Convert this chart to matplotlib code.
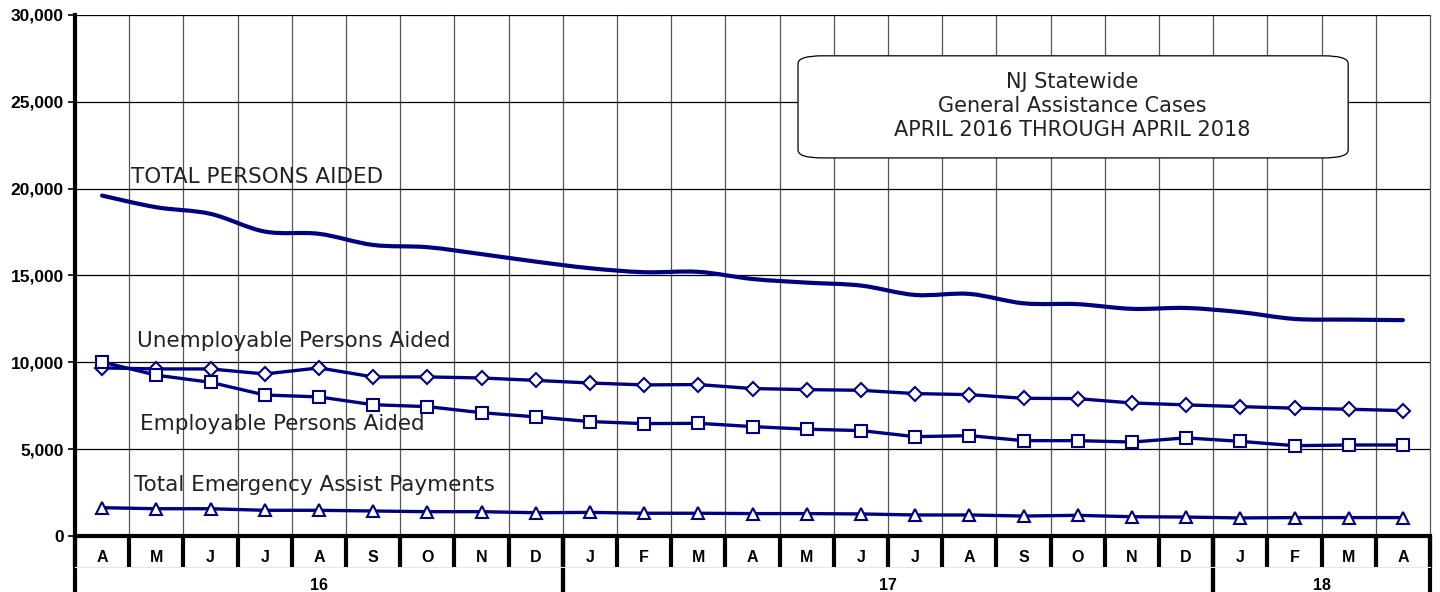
import numpy as np
import matplotlib.pyplot as plt
from matplotlib.path import Path
from matplotlib.patches import PathPatch, FancyBboxPatch
import matplotlib.transforms as mtransforms

# months April 2016 .. April 2018
months = ["A", "M", "J", "J", "A", "S", "O", "N", "D",
          "J", "F", "M", "A", "M", "J", "J", "A", "S", "O", "N", "D",
          "J", "F", "M", "A"]
years = ["16", "17", "18"]
year_spans = [(0, 8), (9, 20), (21, 24)]

total_persons = [19600, 18930, 18550, 17530, 17400, 16760, 16630, 16230, 15800,
                 15420, 15190, 15210, 14800, 14590, 14420, 13880, 13940, 13400,
                 13350, 13080, 13130, 12890, 12500, 12460, 12430]
unemployable = [9680, 9620, 9620, 9330, 9680, 9160, 9160, 9100, 8960,
                8810, 8700, 8720, 8490, 8430, 8390, 8200, 8140, 7930,
                7910, 7660, 7550, 7450, 7360, 7300, 7220]
employable = [10020, 9260, 8850, 8120, 8010, 7560, 7450, 7100, 6860,
              6590, 6470, 6490, 6300, 6150, 6070, 5720, 5780, 5490,
              5490, 5410, 5650, 5450, 5200, 5240, 5240]
emergency = [1630, 1570, 1570, 1480, 1480, 1440, 1400, 1400, 1340,
             1360, 1310, 1310, 1290, 1290, 1270, 1210, 1210, 1150,
             1190, 1110, 1090, 1040, 1060, 1060, 1060]

NAVY = "#000080"
TXT = "#222222"


def smooth_path(xs, ys):
    # bezier through the points, like a spreadsheet "smoothed line"
    pts = np.column_stack([xs, ys]).astype(float)
    ext = np.vstack([pts[0], pts, pts[-1]])
    verts = [pts[0]]
    codes = [Path.MOVETO]
    for i in range(len(pts) - 1):
        p0, p1, p2, p3 = ext[i], ext[i + 1], ext[i + 2], ext[i + 3]
        c1 = p1 + (p2 - p0) / 6.0
        c2 = p2 - (p3 - p1) / 6.0
        verts += [c1, c2, p2]
        codes += [Path.CURVE4] * 3
    return Path(verts, codes)


fig = plt.figure(figsize=(14.4, 5.92), dpi=100)
ax = fig.add_axes([75 / 1440, 1 - 536 / 592, 1355 / 1440, 521 / 592])
x = np.arange(len(months))

ax.set_xlim(-0.5, len(months) - 0.5)
ax.set_ylim(0, 30000)

# grid
for b in np.arange(-0.5, len(months), 1.0):
    ax.axvline(b, color="#555555", lw=0.9, zorder=1, clip_on=False)
for v in range(5000, 30001, 5000):
    ax.axhline(v, color="black", lw=0.9, zorder=1)

# series
ax.add_patch(PathPatch(smooth_path(x, total_persons), fill=False,
                       edgecolor=NAVY, lw=3.0, capstyle="round", zorder=3))
ax.plot(x, unemployable, color=NAVY, lw=2.4, marker="D", ms=7,
        mfc="white", mec=NAVY, mew=1.5, zorder=4)
ax.plot(x, employable, color=NAVY, lw=2.4, marker="s", ms=8.5,
        mfc="white", mec=NAVY, mew=1.5, zorder=4)
ax.plot(x, emergency, color=NAVY, lw=2.4, marker="^", ms=8.5,
        mfc="white", mec=NAVY, mew=1.5, zorder=4)

# series labels
lab_kw = dict(fontsize=15.5, color=TXT, family="DejaVu Sans", va="center",
              ha="left", zorder=5)
ax.text(0.53, 20680, "TOTAL PERSONS AIDED", **lab_kw)
ax.text(0.64, 11230, "Unemployable Persons Aided", **lab_kw)
ax.text(0.70, 6450, "Employable Persons Aided", **lab_kw)
ax.text(0.59, 2940, "Total Emergency Assist Payments", **lab_kw)

# title box
box = FancyBboxPatch((12.84, 21770), 22.99 - 12.84, 27650 - 21770,
                     boxstyle="round,pad=0,rounding_size=0.45",
                     mutation_aspect=1000, facecolor="white",
                     edgecolor="black", lw=0.9, zorder=5)
ax.add_patch(box)
ax.text(17.9, 24760, "NJ Statewide\nGeneral Assistance Cases\nAPRIL 2016 THROUGH APRIL 2018",
        ha="center", va="center", fontsize=15, color=TXT, family="DejaVu Sans",
        linespacing=1.22, zorder=6)

# axes styling
for s in ["top", "right"]:
    ax.spines[s].set_visible(False)
ax.spines["left"].set_linewidth(3)
ax.spines["bottom"].set_linewidth(3)
ax.set_yticks(range(0, 30001, 5000))
ax.set_yticklabels([f"{v:,}" for v in range(0, 30001, 5000)],
                   fontweight="bold", fontsize=12.5, family="Liberation Sans")
ax.tick_params(axis="y", length=5, width=1.2, pad=3)
ax.set_xticks([])

# category rows below the plot
trans = mtransforms.blended_transform_factory(ax.transData, ax.transAxes)
row1 = (536 - 567) / 521
row2 = (536 - 600) / 521
for b in np.arange(-0.5, len(months), 1.0):
    ax.plot([b, b], [0, row1], transform=trans, color="black", lw=3,
            clip_on=False, solid_capstyle="butt")
for start, end in year_spans:
    for b in (start - 0.5, end + 0.5):
        ax.plot([b, b], [0, row2], transform=trans, color="black", lw=3,
                clip_on=False, solid_capstyle="butt")
ax.plot([-0.5, len(months) - 0.5], [row1, row1], transform=trans,
        color="#e6e6e6", lw=0.8, clip_on=False)
for i, m in enumerate(months):
    ax.text(i, (536 - 557) / 521, m, transform=trans, ha="center", va="center",
            fontsize=11.5, fontweight="bold", family="Liberation Sans")
for (start, end), yl in zip(year_spans, years):
    ax.text((start + end) / 2, (536 - 585) / 521, yl, transform=trans,
            ha="center", va="center", fontsize=11.5, fontweight="bold",
            family="Liberation Sans")

fig.savefig("out.png", dpi=100)
